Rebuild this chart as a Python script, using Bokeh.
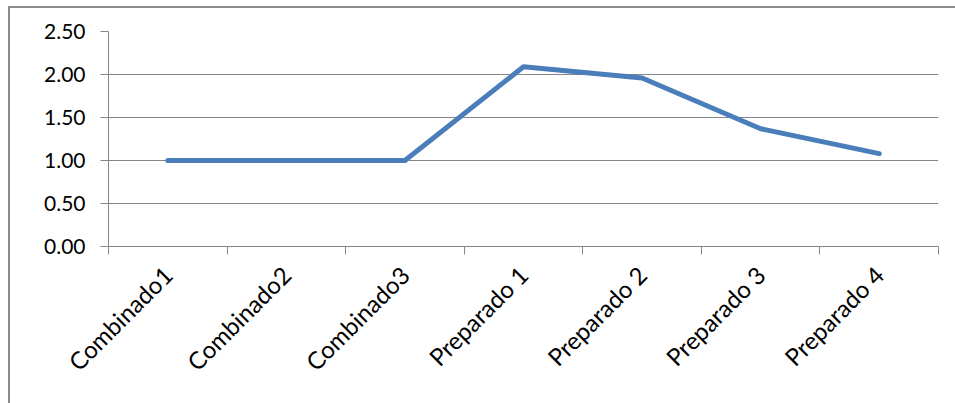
import math

from bokeh.embed import file_html
from bokeh.models import FixedTicker, NumeralTickFormatter, Range1d
from bokeh.plotting import figure
from bokeh.resources import INLINE

# Series data
categories = ["Combinado1", "Combinado2", "Combinado3",
              "Preparado 1", "Preparado 2", "Preparado 3", "Preparado 4"]
values = [1.00, 1.00, 1.00, 2.09, 1.96, 1.37, 1.08]
y_ticks = [0.0, 0.5, 1.0, 1.5, 2.0, 2.5]

FONT = "Lato"
GRID = "#868686"
LINE = "#4a7ebb"

# each category sits in the middle of its slot, ticks mark slot boundaries
x_pos = [i + 0.5 for i in range(len(categories))]

p = figure(
    width=945, height=395,
    x_range=Range1d(0, len(categories)), y_range=Range1d(0, 2.5),
    output_backend="svg", toolbar_location=None,
    min_border_left=98, min_border_right=19,
    min_border_top=23, min_border_bottom=159,
)
# chart border along the top and left edges
p.styles = {
    "margin-left": "8px", "margin-top": "6px",
    "border-left": "2px solid #8c8c8c", "border-top": "2px solid #8c8c8c",
    "box-sizing": "content-box",
}
p.outline_line_color = None
p.background_fill_color = "white"
p.border_fill_color = "white"

p.line(x_pos, values, line_color=LINE, line_width=5, line_cap="round", line_join="round")

# y axis
p.yaxis.ticker = FixedTicker(ticks=y_ticks)
p.yaxis.formatter = NumeralTickFormatter(format="0.00")
p.yaxis.axis_line_color = GRID
p.yaxis.major_tick_line_color = GRID
p.yaxis.major_tick_out = 8
p.yaxis.major_tick_in = 0
p.yaxis.minor_tick_line_color = None
p.yaxis.major_label_text_font = FONT
p.yaxis.major_label_text_font_size = "21px"
p.yaxis.major_label_text_color = "black"
p.yaxis.major_label_standoff = 15

# x axis: labels at slot centres, tick marks between slots
p.xaxis.ticker = FixedTicker(ticks=x_pos, minor_ticks=list(range(len(categories) + 1)))
p.xaxis.major_label_overrides = {x: c for x, c in zip(x_pos, categories)}
p.xaxis.major_label_orientation = math.pi / 4
p.xaxis.axis_line_color = GRID
p.xaxis.major_tick_line_color = None
p.xaxis.major_tick_out = 0
p.xaxis.major_tick_in = 0
p.xaxis.minor_tick_line_color = GRID
p.xaxis.minor_tick_out = 8
p.xaxis.minor_tick_in = 0
p.xaxis.major_label_text_font = FONT
p.xaxis.major_label_text_font_size = "24px"
p.xaxis.major_label_text_color = "black"
p.xaxis.major_label_standoff = 16

p.xgrid.grid_line_color = None
p.ygrid.ticker = FixedTicker(ticks=y_ticks)
p.ygrid.grid_line_color = GRID
p.ygrid.grid_line_width = 1

open("out.html", "w").write(file_html(p, INLINE))
